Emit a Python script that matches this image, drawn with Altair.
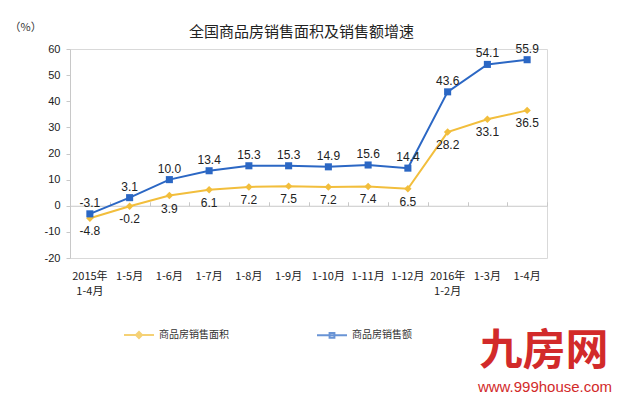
import altair as alt
import pandas as pd

categories = ["2015年\n1-4月", "1-5月", "1-6月", "1-7月", "1-8月", "1-9月", "1-10月",
              "1-11月", "1-12月", "2016年\n1-2月", "1-3月", "1-4月"]
area_growth = [-4.8, -0.2, 3.9, 6.1, 7.2, 7.5, 7.2, 7.4, 6.5, 28.2, 33.1, 36.5]
sales_growth = [-3.1, 3.1, 10.0, 13.4, 15.3, 15.3, 14.9, 15.6, 14.4, 43.6, 54.1, 55.9]
series_names = ["商品房销售面积", "商品房销售额"]
y_ticks = [-20, -10, 0, 10, 20, 30, 40, 50, 60]

YELLOW = "#F2BE3C"
BLUE = "#2B67C4"
GRAY = "#c8c8c8"
RED = "#d22a2a"

rows = []
for c, a, s in zip(categories, area_growth, sales_growth):
    rows.append({"cat": c, "series": series_names[0], "value": a})
    rows.append({"cat": c, "series": series_names[1], "value": s})
df = pd.DataFrame(rows)

W, H = 477, 209
YMIN, YMAX = y_ticks[0], y_ticks[-1]
zero_off = -H * (YMAX - 0) / (YMAX - YMIN)

x_scale = alt.Scale(type="band", paddingInner=0, paddingOuter=0)
y_scale = alt.Scale(domain=[YMIN, YMAX], nice=False, zero=False)

bottom_axis = alt.Axis(orient="bottom", title=None, domain=False, ticks=False, labelAngle=0,
                       labelExpr="split(datum.label, '\\n')", labelFont="Noto Sans CJK SC",
                       labelFontSize=11, labelColor="#222", labelPadding=12, labelLineHeight=15)
top_axis = alt.Axis(orient="top", offset=zero_off, title=None, labels=False, domain=True,
                    domainColor=GRAY, ticks=True, tickColor=GRAY, tickSize=4, tickBand="extent")
y_axis = alt.Axis(values=y_ticks, title="（%）", titleAngle=0, titleX=-61, titleY=-22,
                  titleAlign="left", titleBaseline="middle", titleFont="Noto Sans CJK SC",
                  titleFontSize=11, titleFontWeight="normal", titleColor="#333",
                  labelExpr="replace(datum.label, '\u2212', '-')",
                  labelFont="Liberation Sans", labelFontSize=11, labelColor="#222",
                  labelPadding=6, domainColor=GRAY, tickColor=GRAY, tickSize=4, grid=False)


def xenc(axis):
    return alt.X("cat:N", sort=categories, scale=x_scale, bandPosition=0.5, axis=axis)


yenc = alt.Y("value:Q", scale=y_scale, axis=y_axis)

base = alt.Chart(df).transform_calculate(
    lbl="replace(format(datum.value, '.1f'), '\u2212', '-')"
)

area_line = base.transform_filter(alt.datum.series == series_names[0]).mark_line(
    color=YELLOW, strokeWidth=2,
    point=alt.OverlayMarkDef(shape="diamond", filled=True, size=55, color=YELLOW)
).encode(x=xenc(bottom_axis), y=yenc)

sales_line = base.transform_filter(alt.datum.series == series_names[1]).mark_line(
    color=BLUE, strokeWidth=2,
    point=alt.OverlayMarkDef(shape="square", filled=True, size=50, color=BLUE)
).encode(x=xenc(top_axis), y=yenc)

area_text = base.transform_filter(alt.datum.series == series_names[0]).mark_text(
    dy=13, font="Liberation Sans", fontSize=12, color="#222"
).encode(x=xenc(None), y=yenc, text="lbl:N")

sales_text = base.transform_filter(alt.datum.series == series_names[1]).mark_text(
    dy=-11, font="Liberation Sans", fontSize=12, color="#222"
).encode(x=xenc(None), y=yenc, text="lbl:N")

legend = alt.Legend(title=None, orient="none", legendX=53, legendY=270, direction="horizontal",
                    columns=2, columnPadding=84, symbolSize=900, symbolStrokeWidth=2,
                    labelFont="Noto Sans CJK SC", labelFontSize=10, labelColor="#333",
                    labelOffset=4)
diamond_path = "M-1,0H1M-0.2,0L0,-0.2L0.2,0L0,0.2Z"
square_path = "M-1,0H1M-0.16,-0.16H0.16V0.16H-0.16Z"

legend_layer = base.transform_filter("false").mark_point(filled=False, strokeWidth=2).encode(
    color=alt.Color("series:N", scale=alt.Scale(domain=series_names, range=[YELLOW, BLUE]),
                    legend=legend),
    shape=alt.Shape("series:N", scale=alt.Scale(domain=series_names,
                                                range=[diamond_path, square_path]),
                    legend=legend),
)

wm1 = alt.Chart(pd.DataFrame({"t": ["九房网"]})).mark_text(
    font="Noto Sans CJK SC", fontSize=43, fontWeight="bold", color=RED, align="center",
    baseline="middle"
).encode(text="t:N", x=alt.value(474), y=alt.value(303))
wm2 = alt.Chart(pd.DataFrame({"t": ["www.999house.com"]})).mark_text(
    font="Liberation Sans", fontSize=15, color=RED, align="center", baseline="middle"
).encode(text="t:N", x=alt.value(475), y=alt.value(338))

chart = alt.layer(area_line, sales_line, area_text, sales_text, legend_layer, wm1, wm2).resolve_axis(
    x="independent"
).properties(
    width=W, height=H,
    title=alt.TitleParams("全国商品房销售面积及销售额增速", frame="group", anchor="middle",
                          offset=11, dx=-7, dy=30, font="Noto Sans CJK SC", fontSize=15,
                          fontWeight="normal", color="#222"),
    autosize=alt.AutoSizeParams(type="none"),
    padding={"left": 62, "top": 41, "right": 70, "bottom": 140},
).configure_view(stroke="#d9d9d9", strokeWidth=1)

chart.save("out.html", embed_options={"renderer": "svg", "actions": False})
